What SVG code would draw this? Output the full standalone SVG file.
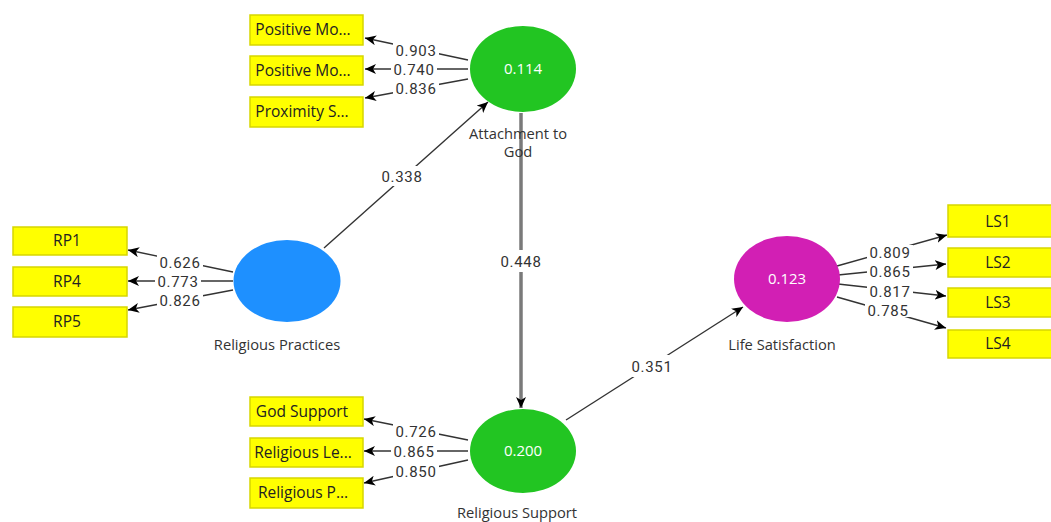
<svg xmlns="http://www.w3.org/2000/svg" width="1051" height="522" viewBox="0 0 1051 522">
<defs>
<marker id="ah" markerUnits="userSpaceOnUse" markerWidth="12" markerHeight="10" refX="11" refY="5" orient="auto">
<path d="M0,0 L11,5 L0,10 L3,5 Z" fill="#000"/>
</marker>
<style>
.bg{fill:#fff}
.ind{fill:#ffff00;stroke:#d6d600;stroke-width:1.5}
.it{font-family:"Open Sans","Noto Sans",sans-serif;font-size:15.5px;fill:#222;text-anchor:middle}
.nt{font-family:"Open Sans","Noto Sans",sans-serif;font-size:14.7px;fill:#333;text-anchor:middle}
.vt{font-family:"Open Sans","Noto Sans",sans-serif;font-size:15px;fill:#fff;text-anchor:middle}
.lt{font-family:Roboto,"Liberation Sans",sans-serif;font-size:15px;letter-spacing:0.7px;fill:#333;text-anchor:middle}
.lb{fill:#fff}
.ln{stroke:#333;stroke-width:1.4;fill:none;marker-end:url(#ah)}
.thick{stroke:#7a7a7a;stroke-width:3.5;fill:none;marker-end:url(#ah)}
</style>
</defs>
<rect class="bg" x="0" y="0" width="1051" height="522"/>
<g id="connectors">
<line class="ln" x1="468" y1="60" x2="365" y2="38"/>
<line class="ln" x1="468" y1="69" x2="365" y2="69"/>
<line class="ln" x1="468" y1="79" x2="365" y2="98"/>
<line class="ln" x1="233" y1="272" x2="128" y2="250"/>
<line class="ln" x1="233" y1="281" x2="128" y2="281"/>
<line class="ln" x1="233" y1="290" x2="128" y2="310"/>
<line class="ln" x1="468" y1="440" x2="364" y2="419"/>
<line class="ln" x1="468" y1="451" x2="364" y2="451"/>
<line class="ln" x1="468" y1="460" x2="364" y2="483"/>
<line class="ln" x1="837" y1="266" x2="947" y2="235"/>
<line class="ln" x1="838" y1="275" x2="946" y2="264"/>
<line class="ln" x1="838" y1="284" x2="946" y2="296"/>
<line class="ln" x1="837" y1="297" x2="946" y2="328"/>
<line class="ln" x1="324" y1="248" x2="488" y2="102"/>
<line class="ln" x1="566" y1="420" x2="743" y2="307"/>
<line class="thick" x1="521" y1="113" x2="521" y2="408"/>
<rect class="lb" x="393" y="43" width="46" height="14"/>
<rect class="lb" x="391" y="62" width="46" height="14"/>
<rect class="lb" x="393" y="81" width="46" height="14"/>
<rect class="lb" x="157" y="255" width="46" height="14"/>
<rect class="lb" x="155" y="274" width="46" height="14"/>
<rect class="lb" x="157" y="293" width="46" height="14"/>
<rect class="lb" x="393" y="424" width="46" height="14"/>
<rect class="lb" x="391" y="444" width="46" height="14"/>
<rect class="lb" x="393" y="464" width="46" height="14"/>
<rect class="lb" x="867" y="245" width="46" height="14"/>
<rect class="lb" x="867" y="264" width="46" height="14"/>
<rect class="lb" x="867" y="284" width="46" height="14"/>
<rect class="lb" x="865" y="303" width="46" height="14"/>
<rect class="lb" x="377" y="166" width="50" height="20"/>
<rect class="lb" x="496" y="250" width="50" height="22"/>
<rect class="lb" x="627" y="355" width="50" height="22"/>
<text class="lt" x="416" y="56">0.903</text>
<text class="lt" x="414" y="75">0.740</text>
<text class="lt" x="416" y="94">0.836</text>
<text class="lt" x="180" y="268">0.626</text>
<text class="lt" x="178" y="287">0.773</text>
<text class="lt" x="180" y="306">0.826</text>
<text class="lt" x="416" y="437">0.726</text>
<text class="lt" x="414" y="457">0.865</text>
<text class="lt" x="416" y="477">0.850</text>
<text class="lt" x="890" y="258">0.809</text>
<text class="lt" x="890" y="277">0.865</text>
<text class="lt" x="890" y="297">0.817</text>
<text class="lt" x="888" y="316">0.785</text>
<text class="lt" x="402" y="182">0.338</text>
<text class="lt" x="521" y="267">0.448</text>
<text class="lt" x="652" y="372">0.351</text>
</g>
<g id="attachment">
<ellipse cx="523" cy="69" rx="53" ry="43" fill="#22c522"/>
<text class="vt" x="523" y="74">0.114</text>
<text class="nt" x="518" y="139">Attachment to</text>
<text class="nt" x="518" y="157">God</text>
</g>
<g id="practices">
<ellipse cx="287" cy="281" rx="53.5" ry="41" fill="#1e90ff"/>
<text class="nt" x="277" y="350">Religious Practices</text>
</g>
<g id="support">
<ellipse cx="523" cy="451" rx="53" ry="42" fill="#22c522"/>
<text class="vt" x="523" y="456">0.200</text>
<text class="nt" x="517" y="518">Religious Support</text>
</g>
<g id="life">
<ellipse cx="787" cy="279" rx="53" ry="43" fill="#d21fb4"/>
<text class="vt" x="787" y="284">0.123</text>
<text class="nt" x="782" y="350">Life Satisfaction</text>
</g>
<g id="ind-pm1"><rect class="ind" x="250" y="15" width="113" height="30"/><text class="it" x="303" y="35">Positive Mo...</text></g>
<g id="ind-pm2"><rect class="ind" x="250" y="56" width="113" height="29"/><text class="it" x="303" y="76">Positive Mo...</text></g>
<g id="ind-ps"><rect class="ind" x="250" y="97" width="113" height="30"/><text class="it" x="302" y="117">Proximity S...</text></g>
<g id="ind-rp1"><rect class="ind" x="13" y="227" width="114" height="28"/><text class="it" x="67" y="246">RP1</text></g>
<g id="ind-rp4"><rect class="ind" x="13" y="267" width="114" height="29"/><text class="it" x="67" y="287">RP4</text></g>
<g id="ind-rp5"><rect class="ind" x="13" y="307" width="114" height="30"/><text class="it" x="67" y="327">RP5</text></g>
<g id="ind-gs"><rect class="ind" x="250" y="397" width="113" height="29"/><text class="it" x="302" y="417">God Support</text></g>
<g id="ind-rl"><rect class="ind" x="250" y="438" width="113" height="29"/><text class="it" x="303" y="458">Religious Le...</text></g>
<g id="ind-rpx"><rect class="ind" x="250" y="478" width="113" height="30"/><text class="it" x="303" y="498">Religious P...</text></g>
<g id="ind-ls1"><rect class="ind" x="948" y="205" width="112" height="32"/><text class="it" x="998" y="227">LS1</text></g>
<g id="ind-ls2"><rect class="ind" x="948" y="248" width="112" height="29"/><text class="it" x="998" y="268">LS2</text></g>
<g id="ind-ls3"><rect class="ind" x="948" y="288" width="112" height="29"/><text class="it" x="998" y="308">LS3</text></g>
<g id="ind-ls4"><rect class="ind" x="948" y="330" width="112" height="28"/><text class="it" x="998" y="349">LS4</text></g>
</svg>
